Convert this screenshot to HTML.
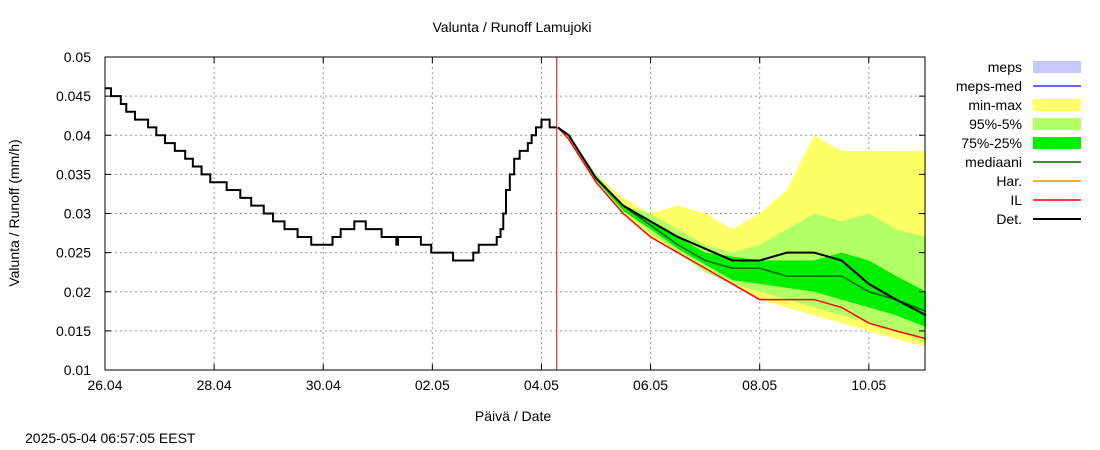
<!DOCTYPE html>
<html><head><meta charset="utf-8"><style>
body{margin:0;background:#fff;}
svg{display:block;font-family:"Liberation Sans",sans-serif;}
</style></head><body>
<svg id="c" width="1100" height="450" viewBox="0 0 1100 450" xmlns="http://www.w3.org/2000/svg">
<rect width="1100" height="450" fill="#fff"/>
<text x="512" y="32" text-anchor="middle" font-size="14">Valunta / Runoff  Lamujoki</text>
<text transform="translate(19,213) rotate(-90)" text-anchor="middle" font-size="14">Valunta / Runoff (mm/h)</text>
<text x="513" y="421" text-anchor="middle" font-size="14">Päivä / Date</text>
<text x="25" y="443" font-size="14">2025-05-04 06:57:05 EEST</text>
<g id="grid"></g><g id="marks"></g><g id="axes"></g><g id="legend"></g>
</svg>
<script>
const yTicks=[0.01,0.015,0.02,0.025,0.03,0.035,0.04,0.045,0.05];
const yTickLabels=["0.01","0.015","0.02","0.025","0.03","0.035","0.04","0.045","0.05"];
const xTickDays=[0,2,4,6,8,10,12,14];
const xTickLabels=["26.04","28.04","30.04","02.05","04.05","06.05","08.05","10.05"];
const nowDay=8.28;
// observed (days since 26.04 00:00, value)
const obsT=[0,0.11,0.29,0.39,0.55,0.79,0.94,1.1,1.28,1.47,1.61,1.77,1.93,2.23,2.48,2.68,2.91,3.08,3.29,3.53,3.78,4.07,4.17,4.32,4.57,4.78,5.07,5.31,5.34,5.37,5.79,5.98,6.38,6.75,6.85,7.18,7.25,7.3,7.35,7.42,7.5,7.6,7.75,7.82,7.9,8.0,8.15];
const obsV=[0.046,0.045,0.044,0.043,0.042,0.041,0.040,0.039,0.038,0.037,0.036,0.035,0.034,0.033,0.032,0.031,0.030,0.029,0.028,0.027,0.026,0.026,0.027,0.028,0.029,0.028,0.027,0.027,0.026,0.027,0.026,0.025,0.024,0.025,0.026,0.027,0.028,0.030,0.033,0.035,0.037,0.038,0.039,0.040,0.041,0.042,0.041];
// forecast
const fT=[8.3,8.5,9,9.5,10,10.5,11,11.5,12,12.5,13,13.5,14,14.5,15.05];
const fMax=[0.041,0.040,0.035,0.032,0.030,0.031,0.030,0.028,0.030,0.033,0.040,0.038,0.038,0.038,0.038];
const fMin=[0.041,0.0395,0.034,0.030,0.027,0.025,0.023,0.021,0.019,0.018,0.017,0.016,0.015,0.014,0.013];
const fP95=[0.041,0.040,0.035,0.031,0.030,0.028,0.026,0.025,0.026,0.028,0.030,0.029,0.030,0.028,0.027];
const fP5=[0.041,0.0395,0.034,0.0305,0.0275,0.025,0.0225,0.021,0.020,0.019,0.018,0.017,0.016,0.015,0.0135];
const fP75=[0.041,0.040,0.0348,0.031,0.029,0.027,0.025,0.0245,0.024,0.024,0.024,0.025,0.024,0.022,0.020];
const fP25=[0.041,0.0398,0.0343,0.0303,0.028,0.0255,0.0235,0.0215,0.021,0.0205,0.020,0.019,0.018,0.017,0.0155];
const fMed=[0.041,0.040,0.0345,0.031,0.0285,0.026,0.024,0.023,0.023,0.022,0.022,0.022,0.020,0.019,0.0175];
const fDet=[0.041,0.040,0.0345,0.031,0.029,0.027,0.0255,0.024,0.024,0.025,0.025,0.024,0.021,0.019,0.017];
const fIL=[0.041,0.0395,0.034,0.030,0.027,0.025,0.023,0.021,0.019,0.019,0.019,0.018,0.016,0.015,0.014];

const X0=105,X1=925,Y0=370,Y1=57,DAYS=15.03;
const xs=d=>X0+d*(X1-X0)/DAYS;
const ys=v=>Y0-(v-0.01)*(Y0-Y1)/0.04;
const NS="http://www.w3.org/2000/svg";
function mk(tag,parent,attrs){const e=document.createElementNS(NS,tag);for(const k in attrs)e.setAttribute(k,attrs[k]);parent.appendChild(e);return e;}
const grid=document.getElementById('grid'),marks=document.getElementById('marks'),axes=document.getElementById('axes'),leg=document.getElementById('legend');
yTicks.forEach((v,i)=>{
 const y=ys(v);
 if(i>0&&i<yTicks.length-1){const l=mk('line',grid,{x1:X0,x2:X1,y1:y,y2:y,stroke:'#999','stroke-dasharray':'2,3'});
 
 }
 mk('line',axes,{x1:X0,x2:X0+6,y1:y,y2:y,stroke:'#000'});
 mk('line',axes,{x1:X1-6,x2:X1,y1:y,y2:y,stroke:'#000'});
 const t=mk('text',axes,{x:X0-14,y:y+5,'text-anchor':'end','font-size':14});t.textContent=yTickLabels[i];
 
 
});
xTickDays.forEach((d,i)=>{
 const x=xs(d);
 if(i>0){const l=mk('line',grid,{x1:x,x2:x,y1:Y1,y2:Y0,stroke:'#999','stroke-dasharray':'2,3'});
 
 }
 mk('line',axes,{x1:x,x2:x,y1:Y0,y2:Y0-6,stroke:'#000'});
 mk('line',axes,{x1:x,x2:x,y1:Y1,y2:Y1+6,stroke:'#000'});
 const t=mk('text',axes,{x:x,y:Y0+20,'text-anchor':'middle','font-size':14});t.textContent=xTickLabels[i];
 
 
});
function stepPts(T,V){let p=[];for(let i=0;i<T.length;i++){if(i>0)p.push([xs(T[i]),ys(V[i-1])]);p.push([xs(T[i]),ys(V[i])]);}return p;}
function linPts(T,V){return T.map((t,i)=>[xs(t),ys(V[i])]);}
function band(lo,hi,col,name){
 const a=linPts(fT,hi),b=linPts(fT,lo).reverse();
 const p=mk('polygon',marks,{points:a.concat(b).map(q=>q.join(',')).join(' '),fill:col});
 
 
}
function line(pts,col,w,name){
 const p=mk('polyline',marks,{points:pts.map(q=>q.join(',')).join(' '),fill:'none',stroke:col,'stroke-width':w});
 
 
}
band(fMin,fMax,'#ffff66','min-max-band');
band(fP5,fP95,'#b3ff66','p95-p5-band');
band(fP25,fP75,'#00ee00','p75-p25-band');
line(linPts(fT,fMed),'#006600',1.5,'mediaani-line');
line(linPts(fT,fIL),'#ff0000',1.5,'il-line');
line(linPts(fT,fDet),'#000',2,'det-forecast-line');
line(stepPts(obsT.concat([nowDay]),obsV.concat([0.041])),'#000',2,'observed-line');
const nl=mk('line',marks,{x1:xs(nowDay),x2:xs(nowDay),y1:Y1,y2:Y0,stroke:'#ff0000','stroke-width':1});


const fr=mk('rect',axes,{x:X0,y:Y1,width:X1-X0,height:Y0-Y1,fill:'none',stroke:'#000'});


const legNames=["meps","meps-med","min-max","95%-5%","75%-25%","mediaani","Har.","IL","Det."];
const legKinds=["box","line","box","box","box","line","line","line","line"];
const legCols=["#c8c8ff","#3333ff","#ffff66","#b3ff66","#00ee00","#006600","#ff8800","#ff0000","#000"];
legNames.forEach((n,i)=>{
 const y=67+i*19;
 const g=mk('g',leg,{});
 
 
 const t=mk('text',g,{x:1022,y:y+5,'text-anchor':'end','font-size':14});t.textContent=n;
 if(legKinds[i]==='box')mk('rect',g,{x:1033,y:y-6,width:48,height:12,fill:legCols[i]});
 else mk('line',g,{x1:1033,x2:1081,y1:y,y2:y,stroke:legCols[i],'stroke-width':i===8?2:1.5});
});
</script>
</body></html>
